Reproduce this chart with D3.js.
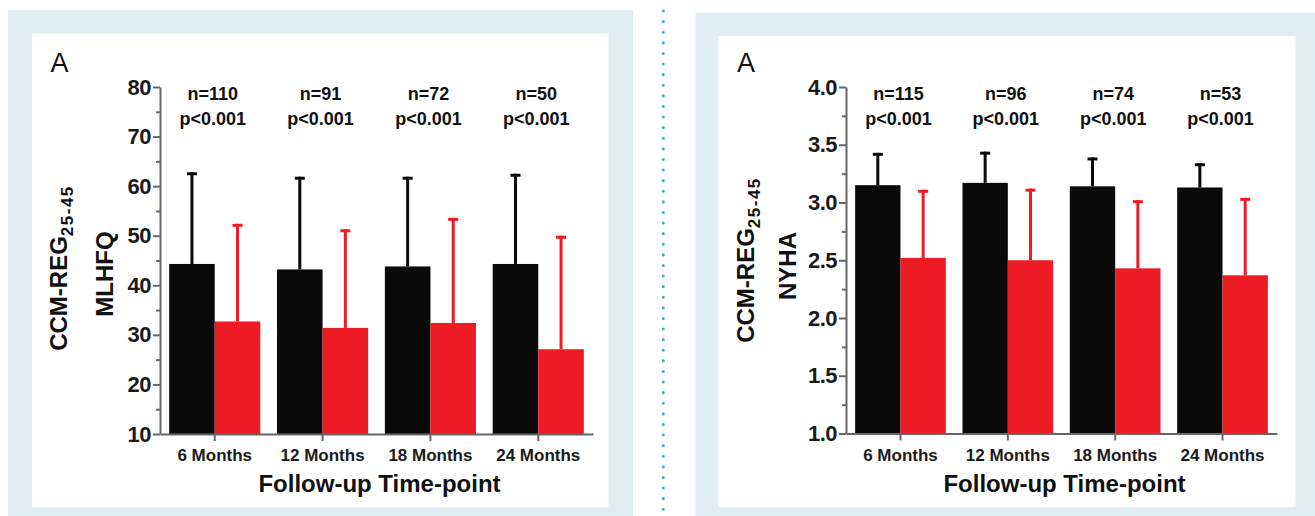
<!DOCTYPE html>
<html lang="en">
  <head>
    <meta charset="utf-8">
    <title>CCM-REG 25-45 follow-up</title>
    <script type="text/javascript" src="https://d3js.org/d3.v7.min.js"></script>
    <style type="text/css">
    body {
      margin: 0;
      background: #ffffff;
    }
    svg text {
      font-family: "Liberation Sans", Arial, sans-serif;
      fill: #111111;
    }
    .axis path,
    .axis line {
      stroke: #666666;
      stroke-width: 2px;
    }
    .axis text {
      font-weight: bold;
      fill: #1a1a1a;
    }
    .ylabel {
      font-size: 24px;
      font-weight: bold;
    }
    .note {
      font-size: 18px;
      font-weight: bold;
    }
    </style>
  </head>
  <body>
    <svg width="1315" height="516" id="chart"></svg>

    <script type="text/javascript">

    // shared categories
    const timepoints = ["6 Months", "12 Months", "18 Months", "24 Months"];
    const pText = "p<0.001";

    // MLHFQ panel (left)
    const mlhfqBaseline = [44.3, 43.2, 43.8, 44.3];
    const mlhfqBaselineSd = [18.5, 18.7, 18.1, 18.2];
    const mlhfqFollowup = [32.7, 31.4, 32.4, 27.1];
    const mlhfqFollowupSd = [19.7, 19.9, 21.2, 22.9];
    const mlhfqN = [110, 91, 72, 50];
    const mlhfqTicks = [10, 20, 30, 40, 50, 60, 70, 80];
    const mlhfqMinor = [15, 25, 35, 45, 55, 65, 75];

    // NYHA panel (right)
    const nyhaBaseline = [3.15, 3.17, 3.14, 3.13];
    const nyhaBaselineSd = [0.28, 0.27, 0.25, 0.21];
    const nyhaFollowup = [2.52, 2.50, 2.43, 2.37];
    const nyhaFollowupSd = [0.59, 0.62, 0.59, 0.67];
    const nyhaN = [115, 96, 74, 53];
    const nyhaTicks = [1.0, 1.5, 2.0, 2.5, 3.0, 3.5, 4.0];
    const nyhaMinor = [1.25, 1.75, 2.25, 2.75, 3.25, 3.75];

    const black = "#0a0a0a";
    const red = "#ed1c24";
    const frameColor = "#deeef3";

    const svg = d3.select("#chart");

    // panel frames
    const frames = [
      {ox: 8, oy: 10, ow: 625, ix: 32, iy: 33.5, iw: 576.5},
      {ox: 695.5, oy: 12.7, ow: 640, ix: 718.3, iy: 36, iw: 577.3}
    ];
    frames.forEach(f => {
      svg.append("rect")
          .attr("x", f.ox).attr("y", f.oy)
          .attr("width", f.ow).attr("height", 516 - f.oy + 10)
          .attr("fill", frameColor);
      svg.append("rect")
          .attr("x", f.ix).attr("y", f.iy)
          .attr("width", f.iw).attr("height", 507 - f.iy)
          .attr("fill", "#ffffff");
    });

    // dotted separator
    svg.append("line")
        .attr("x1", 663.3).attr("y1", 11)
        .attr("x2", 663.3).attr("y2", 516)
        .attr("stroke", "#45abc2")
        .attr("stroke-width", 3)
        .attr("stroke-linecap", "round")
        .attr("stroke-dasharray", "0.1 10.5");

    const panels = [
      {
        left: 160, right: 593, top: 87, bottom: 434,
        domain: [10, 80], ticks: mlhfqTicks, minor: mlhfqMinor, fmt: d3.format("d"),
        base: mlhfqBaseline, baseSd: mlhfqBaselineSd,
        follow: mlhfqFollowup, followSd: mlhfqFollowupSd, n: mlhfqN,
        letterX: 50.5, titleX: [67, 113], titleY: 268, measure: "MLHFQ"
      },
      {
        left: 846, right: 1277, top: 87, bottom: 433.5,
        domain: [1, 4], ticks: nyhaTicks, minor: nyhaMinor, fmt: d3.format(".1f"),
        base: nyhaBaseline, baseSd: nyhaBaselineSd,
        follow: nyhaFollowup, followSd: nyhaFollowupSd, n: nyhaN,
        letterX: 737, titleX: [754, 796], titleY: 260, measure: "NYHA"
      }
    ];

    panels.forEach(p => {
      const g = svg.append("g");

      const xScale = d3.scaleBand()
          .domain(timepoints)
          .range([p.left, p.right])
          .paddingInner(0.155)
          .paddingOuter(0.085);

      const subScale = d3.scaleBand()
          .domain(["base", "follow"])
          .range([0, xScale.bandwidth()]);

      const yScale = d3.scaleLinear()
          .domain(p.domain)
          .range([p.bottom, p.top]);

      const rows = timepoints.map((t, i) => [
        {t: t, key: "base", v: p.base[i], sd: p.baseSd[i], c: black},
        {t: t, key: "follow", v: p.follow[i], sd: p.followSd[i], c: red}
      ]).flat();

      // error bars (upper half only)
      const ebar = g.selectAll(".ebar")
          .data(rows)
          .enter()
          .append("g")
          .attr("class", "ebar");

      ebar.append("rect")
          .attr("x", d => xScale(d.t) + subScale(d.key) + subScale.bandwidth() / 2 - 1.5)
          .attr("y", d => yScale(d.v + d.sd))
          .attr("width", 3)
          .attr("height", d => yScale(d.v) - yScale(d.v + d.sd))
          .attr("fill", d => d.c);

      ebar.append("rect")
          .attr("x", d => xScale(d.t) + subScale(d.key) + subScale.bandwidth() / 2 - 5)
          .attr("y", d => yScale(d.v + d.sd))
          .attr("width", 10)
          .attr("height", 3)
          .attr("fill", d => d.c);

      // bars
      g.selectAll(".bar")
          .data(rows)
          .enter()
          .append("rect")
          .attr("class", "bar")
          .attr("x", d => xScale(d.t) + subScale(d.key))
          .attr("y", d => yScale(d.v))
          .attr("width", subScale.bandwidth())
          .attr("height", d => p.bottom - yScale(d.v))
          .attr("fill", d => d.c);

      // minor ticks
      g.append("g")
          .attr("class", "axis")
          .attr("transform", "translate(" + p.left + ",0)")
          .call(d3.axisLeft(yScale).tickValues(p.minor).tickSize(4).tickSizeOuter(0).tickFormat(""))
          .select(".domain").remove();

      // y axis
      g.append("g")
          .attr("class", "axis")
          .attr("transform", "translate(" + p.left + ",0)")
          .call(d3.axisLeft(yScale).tickValues(p.ticks).tickSize(7).tickSizeOuter(0)
            .tickPadding(2).tickFormat(p.fmt))
          .selectAll("text")
            .attr("font-size", "22px")
            .attr("letter-spacing", "-0.5px");

      // x axis
      g.append("g")
          .attr("class", "axis")
          .attr("transform", "translate(0," + p.bottom + ")")
          .call(d3.axisBottom(xScale).tickSize(7).tickSizeOuter(0).tickPadding(8))
          .selectAll("text")
            .attr("font-size", "17px");

      // n / p annotations
      g.selectAll(".ntext")
          .data(timepoints)
          .enter()
          .append("text")
          .attr("class", "note")
          .attr("text-anchor", "middle")
          .attr("x", d => xScale(d) + xScale.bandwidth() / 2 - 2)
          .attr("y", 100)
          .text((d, i) => "n=" + p.n[i]);

      g.selectAll(".ptext")
          .data(timepoints)
          .enter()
          .append("text")
          .attr("class", "note")
          .attr("text-anchor", "middle")
          .attr("x", d => xScale(d) + xScale.bandwidth() / 2 - 2)
          .attr("y", 125)
          .text(pText);

      // panel letter
      g.append("text")
          .attr("x", p.letterX)
          .attr("y", 72)
          .attr("font-size", "27px")
          .text("A");

      // y titles
      const t1 = g.append("text")
          .attr("class", "ylabel")
          .attr("text-anchor", "middle")
          .attr("transform", "translate(" + p.titleX[0] + "," + p.titleY + ") rotate(-90)");
      t1.append("tspan").text("CCM-REG");
      t1.append("tspan")
          .attr("font-size", "17px")
          .attr("dy", "6")
          .attr("letter-spacing", "1.5px")
          .text("25-45");

      g.append("text")
          .attr("class", "ylabel")
          .attr("text-anchor", "middle")
          .attr("transform", "translate(" + p.titleX[1] + "," + (p.titleY + 6) + ") rotate(-90)")
          .text(p.measure);

      // x title
      g.append("text")
          .attr("class", "ylabel")
          .attr("font-size", "25px")
          .attr("text-anchor", "middle")
          .attr("x", (p.left + p.right) / 2 + 3)
          .attr("y", 492)
          .text("Follow-up Time-point");
    });

    </script>
  </body>
</html>
